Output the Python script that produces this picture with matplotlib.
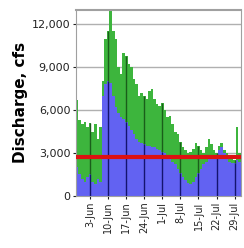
import matplotlib
matplotlib.use("Agg")
import matplotlib.pyplot as plt
import matplotlib.dates as mdates
import pandas as pd

# daily values, 29-May through 31-Jul
dates = pd.date_range("2019-05-29", "2019-07-31", freq="D")
total_cfs = [
    6700, 5300, 5000, 5200, 4800, 5100, 4500, 5000, 4000, 4800,
    8000, 11000, 11500, 13000, 11500, 11000, 9000, 8500, 10000, 9800,
    9200, 9000, 8200, 7800, 7000, 7200, 7000, 6800, 7300, 7500,
    6800, 6400, 6300, 6500, 6000, 5500, 5600, 5000, 4500, 4300,
    3800, 3400, 3200, 3000, 3100, 3300, 3700, 3500, 3200, 3000,
    3400, 4000, 3600, 3200, 3000, 3500, 3700, 3200, 3000, 2800,
    2600, 2500, 4800, 3000,
]
base_cfs = [
    2000, 1500, 1200, 1000, 1300, 1500, 1000, 800, 1200, 1000,
    7000, 7800, 8000, 7900, 7000, 6200, 5800, 5500, 5400, 5200,
    4900, 4600, 4300, 4000, 3800, 3700, 3600, 3500, 3500, 3400,
    3400, 3300, 3200, 3100, 3000, 2800, 2600, 2400, 2200, 1900,
    1600, 1300, 1100, 900, 800, 1000, 1300, 1600, 1900, 2200,
    2400, 2600, 2700, 2700, 2800, 3200, 3400, 3000, 2600, 2400,
    2300, 2300, 2500, 2400,
]
threshold_cfs = 2700
tick_dates = pd.date_range("2019-06-03", periods=9, freq="7D")

total = pd.Series(total_cfs, index=dates)
base = pd.Series(base_cfs, index=dates)
upper = total - base

fig = plt.figure(figsize=(2.44, 2.48), dpi=100)
ax = fig.add_axes([0.311, 0.21, 0.677, 0.75])

ax.bar(dates, base, width=1.0, color="#6262f2", linewidth=0, zorder=2)
ax.bar(dates, upper, bottom=base, width=1.0, color="#3db53d", linewidth=0, zorder=2)

# darker separators on the weekly days, shaded per layer
ax.vlines(tick_dates, 0, base[tick_dates].values, color="#14146e",
          linewidth=1.0, zorder=3)
ax.vlines(tick_dates, base[tick_dates].values, total[tick_dates].values,
          color="#1a5e1a", linewidth=1.0, zorder=3)
ax.axhline(threshold_cfs, color="#dd1111", linewidth=3, zorder=4)

ax.set_ylim(0, 13000)
ax.set_xlim(dates[0] - pd.Timedelta(hours=12), dates[-1] + pd.Timedelta(hours=12))
ax.set_yticks([0, 3000, 6000, 9000, 12000])
ax.set_yticklabels(["0", "3,000", "6,000", "9,000", "12,000"], fontsize=8)
ax.yaxis.grid(True, color="#b0b0b0", linewidth=1, zorder=1)
ax.set_axisbelow(True)

ax.set_xticks(tick_dates)
ax.xaxis.set_major_formatter(mdates.DateFormatter("%-d-%b"))
plt.setp(ax.get_xticklabels(), rotation=90, fontsize=7)
ax.tick_params(axis="both", length=2, pad=2, colors="#222222")

for side in ax.spines.values():
    side.set_color("#a0a0a0")
ax.spines["top"].set_linewidth(1.5)

ax.set_ylabel("Discharge, cfs", fontsize=11, fontweight="bold", labelpad=3)

fig.savefig("out.png", dpi=100)
